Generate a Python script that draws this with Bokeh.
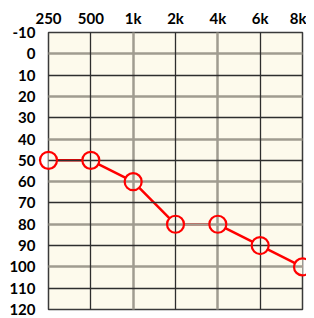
from bokeh.plotting import figure
from bokeh.models import Range1d, LinearAxis, FixedTicker, Grid, ColumnDataSource
from bokeh.embed import file_html
from bokeh.resources import INLINE

freq_labels = ["250", "500", "1k", "2k", "4k", "6k", "8k"]
thresholds = [50, 50, 60, 80, 80, 90, 100]
y_ticks = [-10, 0, 10, 20, 30, 40, 50, 60, 70, 80, 90, 100, 110, 120]

x_idx = list(range(len(freq_labels)))
src = ColumnDataSource(dict(x=x_idx, y=thresholds))

BG = "#FDFAEC"
DARK = "#2E2E2E"
GRAY = "#A09C90"
FONT = "Lato"

p = figure(frame_width=254, frame_height=277, output_backend="svg", toolbar_location=None,
           x_range=Range1d(0, len(freq_labels) - 1), y_range=Range1d(120, -10),
           x_axis_location=None, y_axis_location=None,
           min_border_left=48, min_border_right=4, min_border_top=32, min_border_bottom=8)
p.background_fill_color = BG
p.border_fill_color = "white"
p.outline_line_color = "#3A3A3A"
p.outline_line_width = 1.5
p.xgrid.visible = False
p.ygrid.visible = False

# axes
xa = LinearAxis(ticker=FixedTicker(ticks=x_idx),
                major_label_overrides={i: l for i, l in zip(x_idx, freq_labels)})
ya = LinearAxis(ticker=FixedTicker(ticks=y_ticks),
                major_label_overrides={t: str(t) for t in y_ticks})
for ax in (xa, ya):
    ax.axis_line_color = None
    ax.major_tick_line_color = None
    ax.minor_tick_line_color = None
    ax.major_tick_in = 0
    ax.major_tick_out = 0
    ax.major_label_text_font = FONT
    ax.major_label_text_font_style = "bold"
    ax.major_label_text_font_size = "15px"
    ax.major_label_text_color = "black"
xa.major_label_standoff = 6
ya.major_label_standoff = 13
p.add_layout(xa, "above")
p.add_layout(ya, "left")

# data line (under grid) and background-filled markers hiding it
p.line("x", "y", source=src, line_color="red", line_width=2.5)
p.scatter("x", "y", source=src, size=17, fill_color=BG, line_color=None)

# grids on top
dark_x = [i for i in x_idx if i % 2 == 1]
gray_x = [i for i in x_idx if i % 2 == 0]
dark_y = [t for t in y_ticks if t % 20 != 0]
gray_y = [t for t in y_ticks if t % 20 == 0]
grids = [
    Grid(dimension=0, ticker=FixedTicker(ticks=gray_x), grid_line_color=GRAY, grid_line_width=2.5),
    Grid(dimension=1, ticker=FixedTicker(ticks=gray_y), grid_line_color=GRAY, grid_line_width=2.5),
    Grid(dimension=0, ticker=FixedTicker(ticks=dark_x), grid_line_color=DARK, grid_line_width=1.3),
    Grid(dimension=1, ticker=FixedTicker(ticks=dark_y), grid_line_color=DARK, grid_line_width=1.3),
]
for g in grids:
    g.level = "annotation"
    p.add_layout(g, "center")

# red hollow markers on top
r = p.scatter("x", "y", source=src, size=17, fill_color=None, line_color="red", line_width=2.2)
r.level = "overlay"

open("out.html", "w").write(file_html(p, INLINE))
